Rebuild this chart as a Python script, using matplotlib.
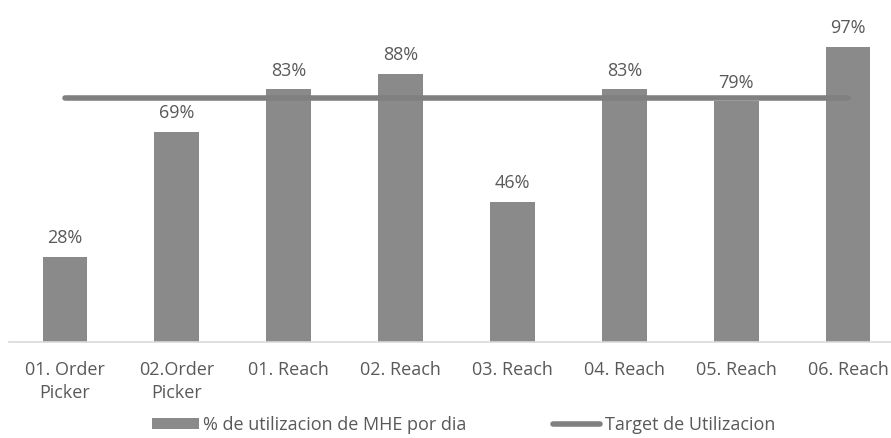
import numpy as np
import matplotlib.pyplot as plt

categorias = ["01. Order\nPicker", "02.Order\nPicker", "01. Reach", "02. Reach",
              "03. Reach", "04. Reach", "05. Reach", "06. Reach"]
utilizacion = [28, 69, 83, 88, 46, 83, 79, 97]
target = [80] * len(categorias)

plt.rcParams['font.family'] = ['Open Sans', 'DejaVu Sans']

fig = plt.figure(figsize=(8.91, 4.38), dpi=100)
ax = fig.add_axes([9 / 891, 96 / 438, 895 / 891, 335 / 438])

x = np.arange(len(categorias))
barras = ax.bar(x, utilizacion, width=0.4, color='#8a8a8a', zorder=2,
                label='% de utilizacion de MHE por dia')
linea, = ax.plot(x, target, color='#808080', linewidth=4, solid_capstyle='round', zorder=3,
                 label='Target de Utilizacion')

for xi, v in zip(x, utilizacion):
    ax.annotate(f"{v}%", (xi, v), xytext=(0, 7), textcoords='offset points',
                ha='center', va='bottom', fontsize=13, color='#595959')

ax.set_xlim(-0.5, len(categorias) - 0.5)
ax.set_ylim(0, 110)
ax.set_xticks(x)
ax.set_xticklabels(categorias, fontsize=13, color='#595959', linespacing=1.3)
ax.tick_params(axis='x', length=0, pad=14)
ax.set_yticks([])
for s in ['top', 'right', 'left']:
    ax.spines[s].set_visible(False)
ax.spines['bottom'].set_color('#d9d9d9')
ax.spines['bottom'].set_linewidth(1.2)

fig.legend([barras, linea], ['% de utilizacion de MHE por dia', 'Target de Utilizacion'],
           loc='lower center', bbox_to_anchor=(0.52, -0.028), ncol=2, frameon=False,
           fontsize=13, labelcolor='#595959', handlelength=2.6, handleheight=0.55,
           handletextpad=0.25, columnspacing=4.8)

fig.savefig('out.png', dpi=100)
